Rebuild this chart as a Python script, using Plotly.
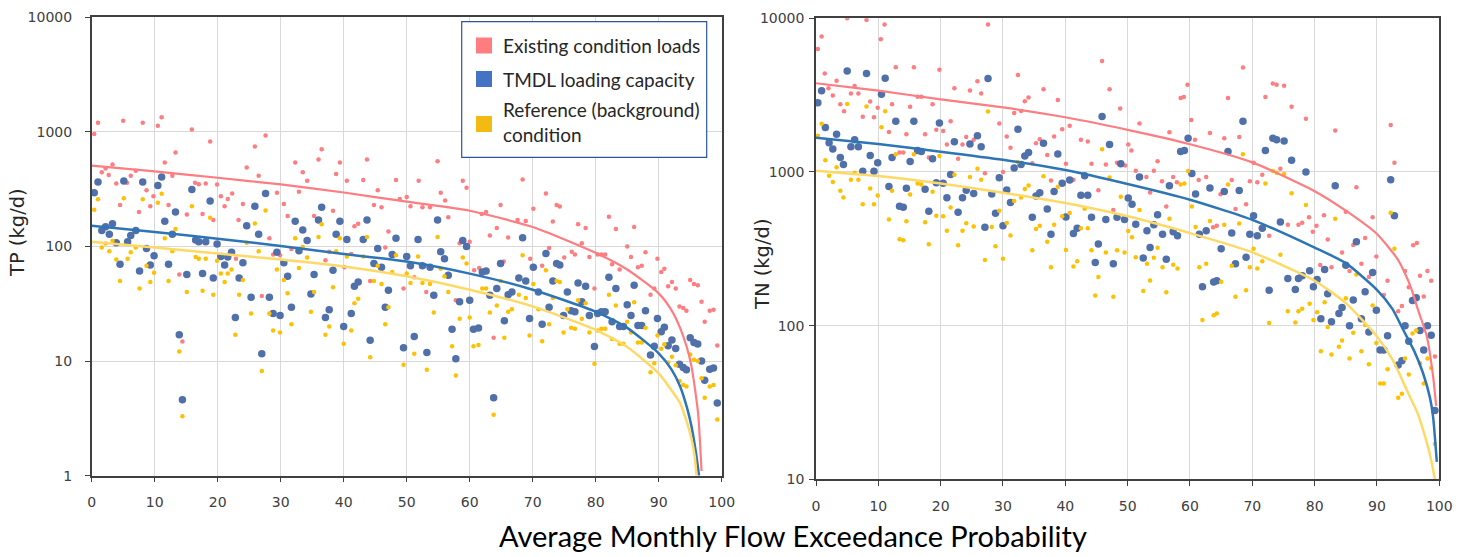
import plotly.graph_objects as go

# ---------------- TP panel (left) ----------------
tp_x = [0.4, 1.0, 1.6, 2.2, 2.8, 3.3, 3.9, 4.5, 5.1, 5.7,
        6.2, 7.0, 7.6, 8.1, 8.7, 9.3, 9.9, 10.5, 11.1, 11.6,
        12.2, 12.8, 13.3, 13.9, 14.4, 15.1, 15.9, 16.5, 17.0, 17.6,
        18.1, 18.8, 19.3, 19.9, 20.5, 21.1, 21.6, 22.2, 22.8, 23.4,
        24.0, 24.6, 25.3, 25.9, 26.5, 27.0, 27.6, 28.2, 28.8, 29.4,
        29.9, 30.5, 31.1, 31.7, 32.3, 32.9, 33.5, 34.2, 34.8, 35.3,
        36.0, 36.5, 37.1, 37.7, 38.3, 38.8, 39.4, 40.0, 40.5, 41.2,
        41.7, 42.3, 43.1, 43.7, 44.2, 44.8, 45.4, 46.0, 46.6, 47.1,
        47.7, 48.3, 49.5, 50.0, 50.6, 51.2, 51.8, 52.5, 53.2, 53.7,
        54.3, 54.9, 55.4, 56.0, 56.6, 57.2, 57.8, 58.4, 58.9, 59.5,
        60.0, 60.6, 61.4, 62.0, 62.6, 63.2, 63.8, 64.3, 64.9, 65.5,
        66.1, 66.7, 67.8, 68.4, 68.9, 69.5, 70.1, 70.9, 71.5, 72.1,
        72.6, 73.2, 73.8, 74.3, 74.9, 75.5, 76.1, 76.7, 77.2, 77.8,
        78.4, 79.0, 79.8, 80.3, 80.9, 81.5, 82.1, 82.6, 83.2, 83.8,
        84.4, 85.0, 85.6, 86.1, 86.7, 87.3, 87.9, 88.7, 89.3, 89.8,
        90.4, 90.9, 91.5, 92.1, 92.7, 93.3, 93.9, 94.4, 95.0, 95.6,
        96.2, 96.8, 97.3, 98.1, 98.7, 99.3]
tp_tmdl = [295, 365, 138, 149, 128, 158, 108, 70, 372, 110,
           125, 138, 61, 365, 96, 69, 83, 340, 405, 166,
           70, 128, 200, 17, 4.6, 57, 315, 114, 110, 58,
           110, 250, 53, 105, 82, 69, 81, 89, 24, 53,
           72, 152, 36, 224, 128, 11.6, 290, 36, 26, 89,
           25, 72, 55, 29.5, 166, 92, 139, 113, 38.5, 57,
           170, 220, 24, 28, 62, 128, 166, 20, 115, 26,
           45, 49, 115, 170, 15.2, 71, 96, 66, 29.5, 41.5,
           85, 118, 13.1, 82, 68, 16.4, 115, 68, 11.9, 66,
           37.5, 170, 90, 78, 56, 19, 10.5, 33, 113, 100,
           34, 19, 19.4, 60, 61, 37.5, 4.8, 43, 71, 22.5,
           38, 40, 53, 119, 50, 23.5, 66, 40, 21, 87,
           29.5, 50, 71, 69, 25, 40, 27.5, 27, 48, 33,
           45, 25, 13.4, 26, 27, 27, 54, 22, 43, 20,
           20, 31, 25, 46, 20.4, 20.4, 27.5, 11.3, 13.5, 23.5,
           18, 19.7, 13.6, 15.3, 12.9, 9.4, 8.8, 8.4, 16, 14.5,
           14.1, 10, 6.8, 8.5, 8.7, 4.3]
tp_ref = [209, 259, 98, 106, 91, 112, 77, 50, 264, 78,
          89, 98, 43, 259, 68, 49, 59, 241, 288, 118,
          50, 91, 142, 12.1, 3.3, 40, 224, 81, 78, 41,
          78, 178, 38, 75, 58, 49, 58, 63, 17, 38,
          51, 108, 26, 159, 91, 8.2, 206, 26, 18.5, 63,
          17.8, 51, 39, 21, 118, 65, 99, 80, 27, 40,
          121, 156, 17, 20, 44, 91, 118, 14.2, 82, 18.5,
          32, 35, 82, 121, 10.8, 50, 68, 47, 21, 29.5,
          60, 84, 9.3, 58, 48, 11.6, 82, 48, 8.4, 47,
          26.6, 121, 64, 55, 40, 13.5, 7.5, 23.4, 80, 71,
          24, 13.5, 13.8, 43, 43, 26.6, 3.4, 30.5, 50, 16,
          27, 28.4, 38, 84, 35.5, 16.7, 47, 28.4, 14.9, 62,
          21, 35.5, 50, 49, 17.8, 28.4, 19.5, 19.2, 34, 23.4,
          32, 17.8, 9.5, 18.5, 19.2, 19.2, 38, 15.6, 30.5, 14.2,
          14.2, 22, 17.8, 32.7, 14.5, 14.5, 19.5, 8, 9.6, 16.7,
          12.8, 14, 9.7, 10.9, 9.2, 6.7, 6.2, 6, 11.4, 10.3,
          10, 7.1, 4.8, 6, 6.2, 3.1]
tp_exist_x = [0.4, 1.0, 1.6, 2.2, 2.7, 3.3, 3.9, 4.5, 5.0, 5.6,
              6.2, 7.0, 7.5, 8.1, 8.7, 9.3, 9.8, 10.5, 11.1, 11.6,
              12.2, 12.8, 13.3, 13.9, 14.4, 15.1, 15.9, 16.4, 17.0, 17.6,
              18.1, 18.8, 19.3, 19.9, 20.5, 21.1, 21.6, 22.3, 22.9, 23.3,
              24.0, 24.6, 25.9, 26.5, 27.0, 27.6, 28.2, 28.8, 29.4, 29.9,
              30.5, 31.1, 31.7, 32.3, 32.9, 33.5, 34.2, 35.3, 36.0, 36.5,
              37.1, 37.7, 38.3, 38.8, 39.4, 40.1, 40.5, 41.2, 41.7, 42.3,
              43.1, 43.7, 44.2, 44.8, 45.4, 46.0, 46.6, 47.1, 48.3, 48.9,
              49.5, 50.0, 50.6, 51.2, 51.9, 52.5, 53.1, 53.7, 54.9, 55.4,
              56.1, 56.6, 57.8, 58.4, 58.9, 59.5, 60.0, 60.7, 61.5, 61.9,
              62.6, 63.2, 63.8, 64.3, 64.9, 65.4, 66.1, 67.6, 68.4, 68.9,
              69.6, 70.1, 71.5, 72.1, 72.6, 73.2, 73.8, 74.3, 75.0, 76.2,
              76.7, 77.2, 77.8, 78.4, 79.0, 79.8, 80.3, 80.9, 81.5, 82.1,
              82.6, 83.2, 83.8, 85.0, 85.6, 86.1, 86.7, 87.3, 87.9, 88.7,
              89.3, 89.8, 90.4, 90.9, 91.5, 92.1, 92.7, 93.3, 93.9, 94.4,
              95.0, 95.6, 96.2, 96.8, 97.3, 98.1, 98.7, 99.3]
tp_exist = [960, 1200, 445, 480, 420, 520, 355, 230, 1250, 360,
            415, 457, 200, 1200, 310, 225, 275, 1130, 1340, 540,
            230, 415, 660, 57, 14.8, 190, 1050, 360, 350, 192,
            355, 825, 170, 348, 275, 225, 260, 290, 78, 170,
            235, 490, 745, 415, 37, 930, 118, 85, 295, 84,
            235, 185, 95, 540, 300, 445, 375, 185, 575, 705,
            76, 90, 205, 430, 540, 66, 375, 86, 150, 158,
            380, 575, 50, 230, 310, 220, 98, 135, 380, 260,
            43, 270, 225, 54, 375, 220, 40, 220, 555, 295,
            252, 180, 34, 107, 375, 325, 110, 62, 65, 192,
            200, 125, 16, 145, 230, 74, 120, 170, 385, 167,
            78, 213, 68, 290, 97, 165, 230, 223, 80, 90,
            85, 156, 107, 145, 81, 43, 85, 85, 85, 182,
            70, 142, 63, 100, 81, 148, 66, 68, 89, 38,
            43, 78, 60, 64, 45, 49, 43, 30, 29, 27.5,
            51, 47, 46, 33, 22, 27.5, 28, 13.7]

tp_exist_curve_x = [0, 10, 20, 30, 40, 50, 60, 70, 80, 85, 90, 92, 93.4, 94.5, 95.2, 95.8, 96.3, 96.8]
tp_exist_curve = [508, 452, 398, 348, 296, 246, 205, 148, 88, 63, 39, 28, 19.5, 13, 9, 5.5, 3.3, 1.1]
tp_tmdl_curve_x = [0, 10, 20, 30, 40, 50, 60, 70, 80, 85, 90, 92, 93.4, 94.5, 95.2, 95.9, 96.4]
tp_tmdl_curve = [152, 134, 117, 101, 86, 74, 58, 42, 27, 19.5, 11.7, 8.5, 6, 3.9, 2.7, 1.6, 1.0]
tp_ref_curve_x = [0, 10, 20, 30, 40, 50, 60, 70, 80, 85, 90, 92, 93.4, 94.5, 95.2, 95.7, 96.0]
tp_ref_curve = [110, 98, 87, 77, 67, 55, 42, 30, 18.7, 13.3, 7.8, 5.6, 4.3, 2.9, 2.1, 1.5, 1.0]

# ---------------- TN panel (right) ----------------
tn_x = [0.3, 0.9, 1.5, 2.1, 2.7, 3.3, 3.9, 4.4, 5.0, 5.6,
        6.2, 6.8, 7.5, 8.1, 8.7, 9.3, 9.9, 10.5, 11.1, 11.7,
        12.2, 12.8, 13.4, 14.0, 14.5, 15.1, 15.7, 16.3, 16.9, 17.5,
        18.1, 18.7, 19.3, 19.8, 20.4, 21.0, 21.6, 22.2, 22.8, 23.5,
        24.1, 24.7, 25.3, 25.9, 26.5, 27.1, 27.6, 28.2, 28.8, 29.4,
        30.0, 30.6, 31.2, 31.8, 32.4, 32.9, 33.5, 34.1, 34.7, 35.3,
        35.9, 36.5, 37.1, 37.7, 38.2, 38.8, 39.5, 40.1, 40.7, 41.3,
        41.9, 42.5, 43.1, 43.6, 44.2, 44.8, 45.3, 45.9, 46.5, 47.1,
        47.7, 48.3, 48.9, 49.5, 50.1, 50.7, 51.3, 51.9, 52.5, 53.1,
        53.6, 54.2, 54.8, 55.6, 56.2, 56.7, 57.3, 58.0, 58.5, 59.1,
        59.7, 60.3, 60.9, 61.5, 62.0, 62.6, 63.2, 63.8, 64.3, 65.0,
        65.5, 66.1, 66.7, 67.3, 67.9, 68.5, 69.0, 69.6, 70.2, 70.8,
        71.6, 72.1, 72.7, 73.3, 73.9, 74.5, 75.1, 75.7, 76.3, 76.9,
        77.4, 78.0, 78.6, 79.2, 79.8, 80.4, 81.0, 81.6, 82.1, 82.7,
        83.3, 83.9, 84.4, 85.0, 85.6, 86.2, 86.7, 87.5, 88.1, 88.7,
        89.3, 89.9, 90.5, 91.1, 91.7, 92.2, 92.8, 93.4, 94.0, 94.5,
        95.1, 95.7, 96.3, 96.9, 97.5, 98.1, 98.7, 99.3]
tn_tmdl = [2820, 3380, 1950, 1550, 1410, 1760, 1240, 1120, 4540, 1460,
           1620, 1460, 1010, 4370, 1280, 1010, 1150, 3200, 4070, 804,
           1240, 2140, 598, 590, 783, 1170, 2140, 1380, 1360, 771,
           555, 1220, 850, 2080, 844, 680, 962, 1570, 546, 680,
           760, 1520, 725, 1720, 1460, 437, 4050, 720, 538, 918,
           446, 764, 632, 1060, 1900, 1120, 1270, 1340, 507, 698,
           733, 1540, 575, 393, 745, 1310, 844, 510, 887, 398,
           430, 705, 946, 705, 507, 258, 340, 2300, 490, 1510,
           253, 507, 1130, 490, 677, 617, 457, 927, 275, 415,
           323, 454, 527, 393, 270, 813, 408, 385, 1360, 1380,
           1660, 977, 720, 393, 179, 415, 787, 192, 196, 316,
           745, 1360, 401, 253, 758, 2140, 279, 393, 518, 385,
           430, 1380, 170, 1660, 1620, 473, 1590, 203, 1190, 172,
           203, 211, 1000, 228, 179, 200, 111, 232, 161, 106,
           813, 120, 131, 247, 100, 147, 352, 111, 166, 91,
           222, 126, 69.5, 69.5, 86, 890, 518, 55.5, 59, 100,
           79, 146, 152, 93, 69.5, 100, 86.5, 28]
tn_ref = [1720, 2060, 1190, 946, 860, 1074, 756, 683, 2770, 891,
          988, 891, 616, 2666, 781, 616, 702, 1952, 2483, 490,
          756, 1305, 365, 360, 478, 714, 1305, 842, 830, 470,
          339, 744, 519, 1269, 515, 415, 587, 958, 333, 415,
          464, 927, 442, 1049, 891, 267, 2471, 439, 328, 560,
          272, 466, 386, 647, 1159, 683, 775, 817, 309, 426,
          447, 939, 351, 240, 454, 799, 515, 311, 541, 243,
          262, 430, 577, 430, 309, 157, 207, 1403, 299, 921,
          154, 309, 689, 299, 413, 376, 279, 565, 168, 253,
          197, 277, 321, 240, 165, 496, 249, 235, 830, 842,
          1013, 596, 439, 240, 109, 253, 480, 117, 120, 193,
          454, 830, 245, 154, 462, 1305, 170, 240, 316, 235,
          262, 842, 104, 1013, 988, 289, 970, 124, 726, 105,
          124, 129, 610, 139, 109, 122, 68, 142, 98, 65,
          496, 73, 80, 151, 61, 90, 215, 68, 101, 56,
          135, 77, 42, 42, 52, 543, 316, 34, 36, 61,
          48, 89, 93, 57, 42, 61, 53, 17]
tn_exist_x = [0.3, 0.9, 1.4, 2.0, 2.7, 3.3, 3.9, 4.5, 5.0, 5.6,
              6.2, 6.8, 7.5, 8.1, 8.7, 9.3, 9.9, 10.4, 11.0, 11.7,
              12.2, 12.8, 13.4, 14.0, 14.5, 15.1, 15.7, 16.3, 16.9, 17.5,
              18.1, 18.7, 19.3, 19.8, 20.4, 21.0, 21.6, 22.2, 22.8, 23.5,
              24.1, 24.7, 25.3, 25.9, 26.5, 27.1, 27.6, 29.4, 30.0, 30.6,
              31.2, 31.8, 32.4, 32.9, 33.5, 34.1, 34.7, 35.3, 35.9, 36.5,
              37.1, 37.7, 38.2, 38.8, 39.5, 40.1, 40.7, 41.3, 42.5, 43.6,
              44.2, 45.3, 45.9, 46.5, 47.1, 47.7, 48.3, 48.8, 49.6, 50.1,
              50.6, 51.3, 51.9, 53.0, 53.6, 54.2, 54.8, 55.5, 56.2, 56.7,
              57.3, 57.9, 58.5, 59.0, 59.6, 60.2, 60.8, 61.4, 62.6, 63.2,
              63.7, 64.3, 64.9, 65.5, 66.1, 66.7, 67.3, 67.9, 68.5, 69.0,
              69.6, 70.2, 70.8, 71.6, 72.1, 72.7, 73.3, 73.9, 74.5, 75.1,
              75.7, 76.3, 77.4, 78.0, 78.6, 79.1, 79.7, 80.3, 80.9, 81.5,
              82.1, 82.7, 83.3, 84.4, 85.0, 85.6, 86.2, 86.7, 87.5, 88.1,
              88.7, 89.3, 89.9, 91.1, 91.7, 92.2, 92.8, 93.4, 94.0, 94.5,
              95.1, 95.8, 96.4, 96.9, 97.5, 98.1, 98.7, 99.3]
tn_exist = [6320, 7600, 4380, 3510, 3140, 3930, 2760, 2480, 10000, 3240,
            3630, 3240, 2290, 9760, 2870, 2270, 2620, 7300, 9100, 1820,
            2760, 4800, 1340, 1340, 1760, 2660, 4800, 3090, 3090, 1760,
            1240, 2760, 1880, 4620, 1850, 1510, 2140, 3510, 1220, 1510,
            1690, 3390, 1620, 3900, 3240, 980, 9100, 2070, 1000, 1700,
            1440, 2420, 4270, 2490, 2890, 3050, 1140, 1540, 1630, 3450,
            1290, 880, 1700, 2940, 1900, 1130, 2000, 890, 1620, 1580,
            1130, 760, 5270, 1120, 3450, 566, 1150, 2590, 1100, 1510,
            1380, 1020, 2070, 927, 734, 1020, 1175, 870, 596, 1810,
            927, 857, 3030, 3070, 3700, 2180, 1620, 887, 927, 1790,
            437, 446, 716, 1660, 3030, 887, 575, 1690, 4790, 617,
            870, 1150, 857, 960, 3070, 385, 3770, 3700, 1050, 3640,
            454, 2660, 454, 468, 2220, 507, 408, 446, 248, 522,
            363, 240, 1860, 299, 550, 227, 335, 795, 253, 372,
            207, 507, 282, 158, 196, 2020, 1150, 124, 134, 227,
            178, 334, 345, 211, 155, 227, 196, 63]

tn_exist_curve_x = [0, 10, 20, 30, 40, 50, 60, 70, 80, 85, 90, 93.2, 94.2, 95.5, 96.6, 98.0, 99.0, 99.5]
tn_exist_curve = [3780, 3380, 2970, 2630, 2270, 1880, 1515, 1155, 750, 560, 395, 275, 232, 175, 126, 85, 47, 30]
tn_tmdl_curve_x = [0, 10, 20, 30, 40, 50, 60, 70, 80, 85, 90, 92.5, 94.2, 96, 97.4, 98.5, 99.0, 99.6]
tn_tmdl_curve = [1670, 1520, 1356, 1200, 1030, 835, 660, 488, 322, 255, 171, 128, 94, 68, 49, 34, 25.6, 13]
tn_ref_curve_x = [0, 10, 20, 30, 40, 50, 60, 70, 80, 85, 90, 92.5, 94.8, 96.5, 97.4, 98.5, 99.3]
tn_ref_curve = [1020, 940, 840, 733, 628, 515, 400, 300, 196, 140, 85, 60, 38, 27, 21, 14.5, 10]

series_names = ["Existing condition loads", "TMDL loading capacity",
                "Reference (background)<br>condition"]
x_ticks = [0, 10, 20, 30, 40, 50, 60, 70, 80, 90, 100]
tp_yticks = [1, 10, 100, 1000, 10000]
tn_yticks = [10, 100, 1000, 10000]

PINK = "#FF7C80"
BLUE_DOT = "#5070AA"
BLUE_LINE = "#2E75B6"
BLUE_SW = "#4472C4"
YEL_DOT = "#FFC000"
YEL_LINE = "#FFD966"
YEL_SW = "#F2BA12"

W, H = 1470, 557
fig = go.Figure()


def panel(xa, ya, ex_x, ex, x, tm, rf, cex_x, cex, ctm_x, ctm, crf_x, crf):
    common = dict(xaxis=xa, yaxis=ya, showlegend=False, hoverinfo="skip")
    fig.add_trace(go.Scatter(x=ex_x, y=ex, mode="markers",
                             marker=dict(size=4.5, color=PINK), **common))
    fig.add_trace(go.Scatter(x=x, y=tm, mode="markers",
                             marker=dict(size=7.5, color=BLUE_DOT), **common))
    fig.add_trace(go.Scatter(x=x, y=rf, mode="markers",
                             marker=dict(size=4.5, color=YEL_DOT), **common))
    fig.add_trace(go.Scatter(x=cex_x, y=cex, mode="lines",
                             line=dict(color=PINK, width=2.2, shape="spline", smoothing=0.6), **common))
    fig.add_trace(go.Scatter(x=ctm_x, y=ctm, mode="lines",
                             line=dict(color=BLUE_LINE, width=2.5, shape="spline", smoothing=0.6), **common))
    fig.add_trace(go.Scatter(x=crf_x, y=crf, mode="lines",
                             line=dict(color=YEL_LINE, width=2.5, shape="spline", smoothing=0.6), **common))


panel("x", "y", tp_exist_x, tp_exist, tp_x, tp_tmdl, tp_ref,
      tp_exist_curve_x, tp_exist_curve, tp_tmdl_curve_x, tp_tmdl_curve, tp_ref_curve_x, tp_ref_curve)
panel("x2", "y2", tn_exist_x, tn_exist, tn_x, tn_tmdl, tn_ref,
      tn_exist_curve_x, tn_exist_curve, tn_tmdl_curve_x, tn_tmdl_curve, tn_ref_curve_x, tn_ref_curve)

tickfont = dict(family="DejaVu Sans", size=14, color="#404040")
axis_common = dict(showgrid=True, gridcolor="#D9D9D9", gridwidth=1, showline=True,
                   linecolor="#404040", linewidth=1.5, mirror=True, ticks="outside",
                   ticklen=5, tickwidth=1.3, tickcolor="#404040", zeroline=False,
                   tickfont=tickfont, automargin=False)

def xaxis(domain, anchor):
    return dict(domain=domain, anchor=anchor, range=[0, 100], tickvals=x_ticks,
                ticktext=[str(v) for v in x_ticks], ticklabelstandoff=8, **axis_common)

def yaxis(domain, anchor, ticks, rng, standoff):
    return dict(domain=domain, anchor=anchor, type="log", range=rng, tickvals=ticks,
                ticktext=[str(v) for v in ticks], ticklabelstandoff=standoff, **axis_common)

fig.update_layout(
    width=W, height=H, margin=dict(l=0, r=0, t=0, b=0),
    paper_bgcolor="white", plot_bgcolor="white", showlegend=False,
    xaxis=xaxis([91.7 / W, 721.7 / W], "y"),
    yaxis=yaxis([1 - 475.7 / H, 1 - 17.3 / H], "x", tp_yticks, [0, 4], 10),
    xaxis2=xaxis([816 / W, 1439.3 / W], "y2"),
    yaxis2=yaxis([1 - 479.3 / H, 1 - 18.3 / H], "x2", tn_yticks, [1, 4], 2),
)

# manual legend box (paper coordinates)
shapes = [dict(type="rect", xref="paper", yref="paper",
               x0=461.7 / W, x1=706.7 / W, y0=1 - 157.3 / H, y1=1 - 21.7 / H,
               line=dict(color="#2F5597", width=1.2), fillcolor="white", layer="above")]
sw_colors = [PINK, BLUE_SW, YEL_SW]
sw_centers = [45.5, 79.0, 124.0]
txt_centers = [45.5, 80.0, 122.5]
for c, yc in zip(sw_colors, sw_centers):
    shapes.append(dict(type="rect", xref="paper", yref="paper",
                       x0=476 / W, x1=492 / W, y0=1 - (yc + 8) / H, y1=1 - (yc - 8) / H,
                       line=dict(width=0), fillcolor=c, layer="above"))

annotations = []
for name, yc in zip(series_names, txt_centers):
    annotations.append(dict(text=name, xref="paper", yref="paper", x=500.5 / W, y=1 - yc / H,
                            xanchor="left", yanchor="middle", showarrow=False, align="left",
                            font=dict(family="Lato", size=19, color="#262626")))
annotations.append(dict(text="TP (kg/d)", xref="paper", yref="paper", x=18 / W, y=1 - 233 / H,
                        textangle=-90, showarrow=False, xanchor="center", yanchor="middle",
                        font=dict(family="DejaVu Sans", size=19.5, color="#262626")))
annotations.append(dict(text="TN (kg/d)", xref="paper", yref="paper", x=762 / W, y=1 - 264 / H,
                        textangle=-90, showarrow=False, xanchor="center", yanchor="middle",
                        font=dict(family="DejaVu Sans", size=19.5, color="#262626")))
annotations.append(dict(text="Average Monthly Flow Exceedance Probability", xref="paper", yref="paper",
                        x=793 / W, y=1 - 535 / H, showarrow=False, xanchor="center", yanchor="middle",
                        font=dict(family="Lato", size=29, color="#000000")))

fig.update_layout(shapes=shapes, annotations=annotations)
fig.write_html("out.html")
